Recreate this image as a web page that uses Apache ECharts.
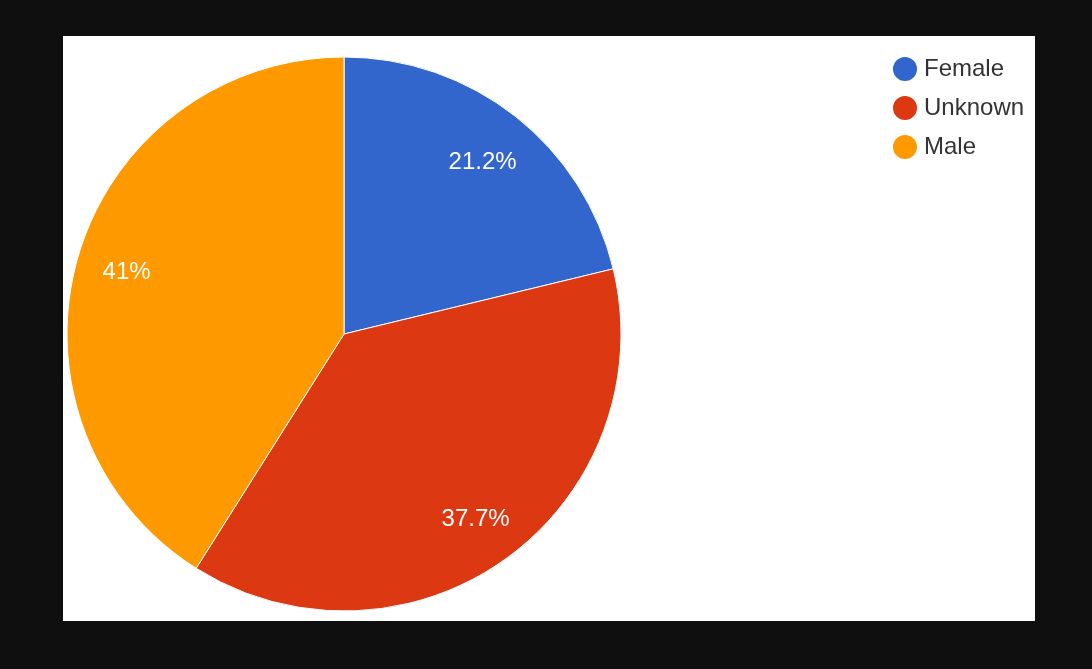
<!DOCTYPE html>
<html>
<head>
<meta charset="utf-8">
<script src="https://cdn.jsdelivr.net/npm/echarts@6/dist/echarts.min.js"></script>
<style>
  html, body { margin: 0; padding: 0; background: #0f0f0f; }
  #chart { width: 1092px; height: 669px; }
</style>
</head>
<body>
<div id="chart"></div>
<script>
// Gender breakdown (percent of total)
const categories = ['Female', 'Unknown', 'Male'];
const shares = [21.2, 37.7, 41];
const colors = ['#3366cc', '#dc3912', '#ff9900'];

const R = 277;
const center = [344, 334];

// small nudges for the in-slice percentage labels
const labelNudge = { Female: [-2, 7], Unknown: [-1, 1], Male: [1, 2] };

const sliceData = categories.map((name, i) => ({ name, value: shares[i] }));
const labelData = categories.map((name, i) => ({
  name,
  value: shares[i],
  label: { offset: labelNudge[name] }
}));

const chart = echarts.init(document.getElementById('chart'), null, { renderer: 'canvas' });
chart.setOption({
  backgroundColor: '#0f0f0f',
  color: colors,
  animation: false,
  graphic: [{
    type: 'rect',
    z: -10,
    shape: { x: 63, y: 36, width: 972, height: 585 },
    style: { fill: '#ffffff' }
  }],
  legend: {
    orient: 'vertical',
    left: 891,
    top: 55,
    padding: 0,
    icon: 'circle',
    itemWidth: 26,
    itemHeight: 26,
    itemGap: 11,
    data: categories,
    textStyle: {
      fontFamily: 'Liberation Sans, Arial, sans-serif',
      fontSize: 24,
      lineHeight: 26,
      color: '#333333',
      padding: [0, 0, 0, 1]
    }
  },
  series: [
    {
      // filled slices
      type: 'pie',
      center: center,
      radius: [0, R],
      startAngle: 90,
      clockwise: true,
      silent: true,
      data: sliceData,
      itemStyle: { borderColor: '#ffffff', borderWidth: 1 },
      label: { show: false },
      labelLine: { show: false }
    },
    {
      // percentage labels placed near the rim
      type: 'pie',
      center: center,
      radius: [R * 0.62, R],
      startAngle: 90,
      clockwise: true,
      silent: true,
      data: labelData,
      itemStyle: { color: 'rgba(0,0,0,0)', borderWidth: 0 },
      label: {
        show: true,
        position: 'inside',
        formatter: p => p.value + '%',
        color: '#ffffff',
        fontFamily: 'Liberation Sans, Arial, sans-serif',
        fontSize: 24
      },
      labelLine: { show: false }
    }
  ]
});
</script>
</body>
</html>
